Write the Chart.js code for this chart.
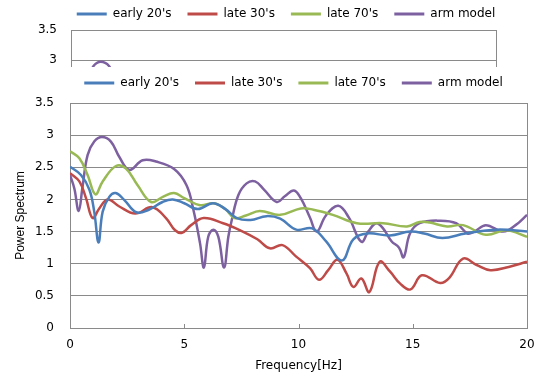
<!DOCTYPE html>
<html>
<head>
<meta charset="utf-8">
<script src="https://cdn.jsdelivr.net/npm/chart.js@4.4.1/dist/chart.umd.min.js"></script>
<style>
  body { margin: 0; background: #fff; }
  #wrap { position: relative; width: 539px; height: 379px; overflow: hidden; }
  #main { position: absolute; left: 0; top: 0; }
  #peek { position: absolute; left: 0; top: 0; width: 539px; height: 67px; overflow: hidden; background: #fff; }
  #top { position: absolute; left: 0; top: -8px; }
</style>
</head>
<body>
<div id="wrap">
  <canvas id="main" width="539" height="379"></canvas>
  <div id="peek"><canvas id="top" width="539" height="300"></canvas></div>
</div>
<script>
// values (frequency in Hz, power spectrum)
const seriesNames = ["early 20's", "late 30's", "late 70's", "arm model"];
const xTicks = [0, 5, 10, 15, 20];
const yTicks = [0, 0.5, 1, 1.5, 2, 2.5, 3, 3.5];

const early20Hz = [0, 0.48, 0.85, 1.06, 1.25, 1.43, 1.72, 2.0, 2.38, 2.9, 3.45, 4.05, 4.5, 5.0, 5.6, 6.25, 6.8, 7.3, 7.9, 8.6, 9.2, 9.9, 10.6, 11.2, 11.9, 12.4, 13.0, 14.0, 14.9, 15.5, 16.3, 17.3, 18.7, 20];
const early20 = [2.51, 2.38, 2.15, 1.81, 1.33, 1.81, 2.04, 2.1, 1.99, 1.8, 1.84, 1.96, 2.0, 1.94, 1.85, 1.94, 1.85, 1.71, 1.68, 1.74, 1.7, 1.53, 1.55, 1.35, 1.05, 1.38, 1.47, 1.44, 1.5, 1.47, 1.4, 1.47, 1.53, 1.5];

const late30Hz = [0, 0.41, 0.7, 0.99, 1.28, 1.65, 2.16, 2.85, 3.6, 4.2, 4.6, 4.9, 5.3, 5.85, 6.7, 7.45, 8.2, 8.75, 9.3, 9.9, 10.5, 10.9, 11.3, 11.7, 12.1, 12.4, 12.75, 13.1, 13.55, 14.0, 14.45, 14.9, 15.4, 16.2, 16.6, 17.2, 17.8, 18.4, 19.2, 20];
const late30 = [2.41, 2.28, 2.02, 1.71, 1.86, 2.0, 1.89, 1.78, 1.88, 1.71, 1.52, 1.48, 1.6, 1.71, 1.63, 1.52, 1.38, 1.24, 1.29, 1.11, 0.93, 0.75, 0.9, 1.06, 0.85, 0.64, 0.77, 0.56, 1.03, 0.88, 0.69, 0.6, 0.82, 0.7, 0.78, 1.08, 0.98, 0.9, 0.95, 1.03];

const late70Hz = [0, 0.41, 0.77, 1.11, 1.43, 2.01, 2.45, 2.96, 3.55, 4.06, 4.55, 5.0, 5.69, 6.3, 6.8, 7.2, 7.7, 8.3, 9.2, 10.1, 10.65, 11.5, 12.55, 13.7, 14.75, 15.3, 15.75, 16.5, 17.2, 18.2, 19.1, 20];
const late70 = [2.75, 2.64, 2.38, 2.08, 2.28, 2.52, 2.48, 2.22, 1.96, 2.04, 2.1, 2.02, 1.91, 1.94, 1.85, 1.71, 1.75, 1.82, 1.76, 1.86, 1.84, 1.76, 1.63, 1.63, 1.58, 1.65, 1.64, 1.58, 1.6, 1.45, 1.52, 1.42];

const armHz = [0, 0.19, 0.38, 0.55, 0.77, 1.06, 1.4, 1.79, 2.16, 2.6, 3.18, 3.76, 4.57, 5.1, 5.4, 5.69, 5.86, 6.05, 6.27, 6.49, 6.74, 6.93, 7.08, 7.37, 7.73, 8.1, 8.5, 9.05, 9.4, 9.8, 10.1, 10.5, 10.8, 11.2, 11.74, 12.2, 12.75, 13.05, 13.4, 13.7, 14.07, 14.4, 14.6, 14.88, 15.3, 16.2, 16.9, 17.4, 17.7, 18.2, 18.96, 19.5, 20];
const arm = [2.38, 2.17, 1.82, 2.2, 2.69, 2.9, 2.97, 2.9, 2.66, 2.46, 2.61, 2.59, 2.47, 2.22, 1.84, 1.32, 0.94, 1.42, 1.53, 1.42, 0.94, 1.42, 1.68, 2.07, 2.25, 2.28, 2.15, 1.96, 2.05, 2.14, 2.02, 1.72, 1.5, 1.75, 1.9, 1.72, 1.34, 1.5, 1.63, 1.55, 1.35, 1.25, 1.1, 1.47, 1.63, 1.67, 1.63, 1.47, 1.5, 1.6, 1.5, 1.6, 1.76];

const colors = ['#4A7EBB', '#BE4B48', '#98B954', '#7D60A0'];
const gridColor = '#8a8a8a';
const font = { family: 'DejaVu Sans', size: 12 };

function pairs(xs, ys) {
  return xs.map((x, i) => ({ x: x, y: ys[i] }));
}

function makeDatasets() {
  const all = [[early20Hz, early20], [late30Hz, late30], [late70Hz, late70], [armHz, arm]];
  return all.map((s, i) => ({
    label: seriesNames[i],
    data: pairs(s[0], s[1]),
    borderColor: colors[i],
    backgroundColor: colors[i],
    borderWidth: 2.5,
    pointRadius: 0,
    tension: 0.4
  }));
}

// excel-like plot frame: right edge plus short inner ticks on the x axis
const frame = {
  id: 'frame',
  afterDraw(chart) {
    const a = chart.chartArea;
    const ctx = chart.ctx;
    const xs = chart.scales.x;
    const r = Math.round(a.right) + 0.5;
    ctx.save();
    ctx.strokeStyle = gridColor;
    ctx.lineWidth = 1;
    ctx.beginPath();
    ctx.moveTo(r, a.top);
    ctx.lineTo(r, a.bottom);
    xTicks.forEach(v => {
      const px = Math.round(xs.getPixelForValue(v)) + 0.5;
      ctx.moveTo(px, a.bottom);
      ctx.lineTo(px, a.bottom - 4);
    });
    ctx.stroke();
    ctx.restore();
  }
};

function shiftLegend(dx, dy) {
  return {
    id: 'shiftLegend',
    afterLayout(chart) {
      chart.legend.left += dx;
      chart.legend.right += dx;
      chart.legend.top += dy;
      chart.legend.bottom += dy;
    }
  };
}

function makeChart(el, cfg) {
  return new Chart(el, {
    type: 'line',
    data: { datasets: makeDatasets() },
    options: {
      responsive: false,
      animation: false,
      layout: { padding: { top: cfg.padTop, right: cfg.padRight, bottom: 0, left: 0 } },
      plugins: {
        tooltip: { enabled: false },
        legend: {
          position: 'top',
          labels: {
            font: font,
            color: '#000',
            boxWidth: 30,
            boxHeight: 3,
            padding: 16,
            generateLabels(chart) {
              const items = Chart.defaults.plugins.legend.labels.generateLabels(chart);
              items.forEach(it => { it.lineWidth = 0; });
              return items;
            }
          }
        }
      },
      scales: {
        x: {
          type: 'linear',
          min: 0,
          max: 20,
          afterBuildTicks(scale) { scale.ticks = xTicks.map(v => ({ value: v })); },
          afterFit(scale) { scale.height = cfg.xHeight; },
          grid: { drawOnChartArea: false, tickLength: 8, tickColor: 'rgba(0,0,0,0)', color: gridColor },
          border: { color: gridColor },
          ticks: { font: font, color: '#000', padding: 2, maxRotation: 0, callback: v => String(v) },
          title: { display: true, text: 'Frequency[Hz]', font: font, color: '#000', padding: { top: 0, bottom: 6 } }
        },
        y: {
          min: 0,
          max: 3.5,
          afterBuildTicks(scale) { scale.ticks = yTicks.map(v => ({ value: v })); },
          afterFit(scale) { scale.width = cfg.yWidth; },
          grid: { color: gridColor, drawTicks: false },
          border: { color: gridColor },
          ticks: { font: font, color: '#000', padding: cfg.yPad, callback: v => String(v) },
          title: { display: true, text: 'Power Spectrum', font: { family: 'Liberation Sans', size: 12 }, color: '#000', padding: { top: 13, bottom: 0 } }
        }
      }
    },
    plugins: [frame, shiftLegend(cfg.dx, cfg.dy)]
  });
}

makeChart(document.getElementById('main'), { padTop: 65, padRight: 12, xHeight: 51, yWidth: 70, yPad: 16, dx: 30, dy: -4 });
makeChart(document.getElementById('top'), { padTop: 0, padRight: 43, xHeight: 52, yWidth: 71, yPad: 14, dx: 38, dy: 0 });
</script>
</body>
</html>
